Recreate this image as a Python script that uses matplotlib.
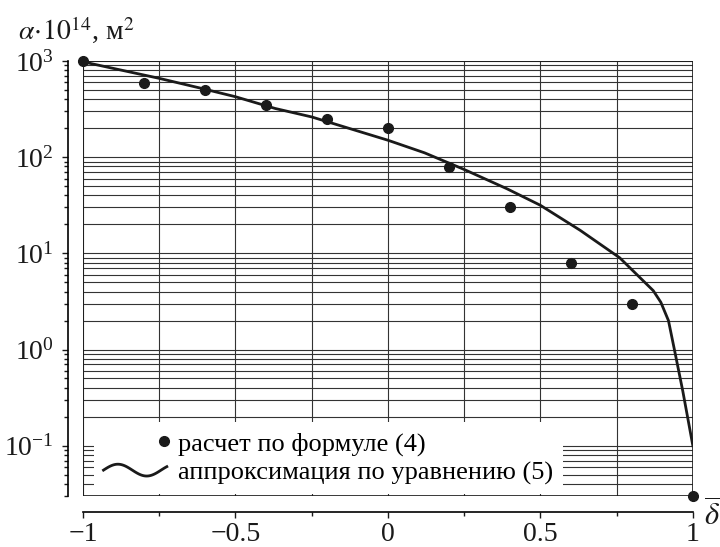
import numpy as np
import matplotlib
matplotlib.use('Agg')
import matplotlib.pyplot as plt
from matplotlib.lines import Line2D
from matplotlib.patches import Rectangle
from matplotlib.legend_handler import HandlerLine2D
from matplotlib.ticker import LogLocator, MultipleLocator, NullFormatter, LogFormatterSciNotation

plt.rcParams['font.family'] = ['Liberation Serif', 'DejaVu Serif']
plt.rcParams['mathtext.fontset'] = 'stix'

# расчет по формуле (4)
delta_calc = [-1.0, -0.8, -0.6, -0.4, -0.2, 0.0, 0.2, 0.4, 0.6, 0.8, 1.0]
alpha_calc = [1000, 590, 500, 350, 250, 200, 79, 30, 8, 3, 0.03]

# аппроксимация по уравнению (5)
delta_fit = [-1.0, -0.75, -0.62, -0.5, -0.37, -0.25, 0.0, 0.12, 0.25, 0.39, 0.5,
             0.63, 0.76, 0.87, 0.895, 0.92, 0.94, 0.967, 1.0]
alpha_fit = [980, 660, 527, 425, 321, 262, 150, 111, 74.5, 47, 31.6,
             17.4, 9.0, 4.1, 3.1, 2.0, 0.98, 0.37, 0.1]

y_ticks = [1e-1, 1e0, 1e1, 1e2, 1e3]
x_ticks = [-1, -0.5, 0, 0.5, 1]
x_labels = ['\u22121', '\u22120.5', '0', '0.5', '1']


class WaveHandler(HandlerLine2D):
    """Линия в легенде в виде волны"""
    def create_artists(self, legend, orig_handle, xdescent, ydescent,
                       width, height, fontsize, trans):
        t = np.linspace(0, 1.1, 60)
        xs = -xdescent + t / 1.1 * width
        ys = -ydescent + height / 2 + 0.32 * height * np.sin(2 * np.pi * t)
        line = Line2D(xs, ys)
        self.update_prop(line, orig_handle, legend)
        line.set_marker('')
        line.set_transform(trans)
        return [line]


class DotHandler(HandlerLine2D):
    """Точка в правой части поля маркера"""
    def create_artists(self, legend, orig_handle, xdescent, ydescent,
                       width, height, fontsize, trans):
        line = Line2D([-xdescent + width - 2], [-ydescent + height / 2])
        self.update_prop(line, orig_handle, legend)
        line.set_linestyle('')
        line.set_transform(trans)
        return [line]


fig = plt.figure(figsize=(7.2, 5.47), dpi=100)
ax = fig.add_axes([0.1153, 0.0932, 0.847, 0.7953])

ax.set_yscale('log')
ax.set_xlim(-1, 1)
ax.set_ylim(0.03, 1000)

ax.yaxis.set_major_locator(LogLocator(base=10, numticks=10))
ax.yaxis.set_minor_locator(LogLocator(base=10, subs=np.arange(2, 10), numticks=20))
ax.yaxis.set_major_formatter(LogFormatterSciNotation())
ax.yaxis.set_minor_formatter(NullFormatter())
ax.set_yticks(y_ticks)
ax.xaxis.set_minor_locator(MultipleLocator(0.25))
ax.set_xticks(x_ticks)
ax.set_xticklabels(x_labels)

ax.grid(True, which='both', color='0.2', linewidth=0.8)
ax.set_axisbelow(True)

# оси вынесены за пределы поля графика
for side in ('top', 'right'):
    ax.spines[side].set_visible(False)
ax.spines['left'].set_position(('outward', 10.8))
ax.spines['bottom'].set_position(('outward', 11.5))
ax.spines['left'].set_linewidth(1.2)
ax.spines['bottom'].set_linewidth(1.2)
ax.add_patch(Rectangle((0, 0), 1, 1, transform=ax.transAxes, fill=False,
                       edgecolor='0.1', linewidth=1.2, zorder=1.5))

ax.tick_params(axis='both', which='major', direction='out', length=4, width=1,
               labelsize=20, colors='0.1')
ax.tick_params(axis='both', which='minor', direction='out', length=2.8, width=1,
               colors='0.1')
ax.tick_params(axis='x', which='major', pad=3)
ax.tick_params(axis='y', which='major', pad=6)

line, = ax.plot(delta_fit, alpha_fit, color='0.1', linewidth=2, zorder=3)
dots, = ax.plot(delta_calc, alpha_calc, 'o', color='0.1', markersize=7,
                clip_on=False, zorder=4)

leg = ax.legend([dots, line], ['расчет по формуле (4)', 'аппроксимация по уравнению (5)'],
                handler_map={dots: DotHandler(), line: WaveHandler()},
                loc='lower left', bbox_to_anchor=(0.018, 0.004), borderaxespad=0,
                fontsize=19, handlelength=2.4, handletextpad=0.42, labelspacing=0.2,
                borderpad=0.36, frameon=True, fancybox=False, framealpha=1,
                facecolor='white', edgecolor='none')
leg.set_zorder(5)

fig.text(18 / 720, 1 - 30 / 547, r'$\alpha\!\cdot\!10^{14}$, м$^2$', fontsize=20,
         ha='left', va='center', color='0.1')
fig.text(712 / 720, 1 - 516 / 547, r'$\overline{\delta}$', fontsize=22,
         ha='center', va='center', color='0.1')

fig.savefig('out.png', dpi=100)
